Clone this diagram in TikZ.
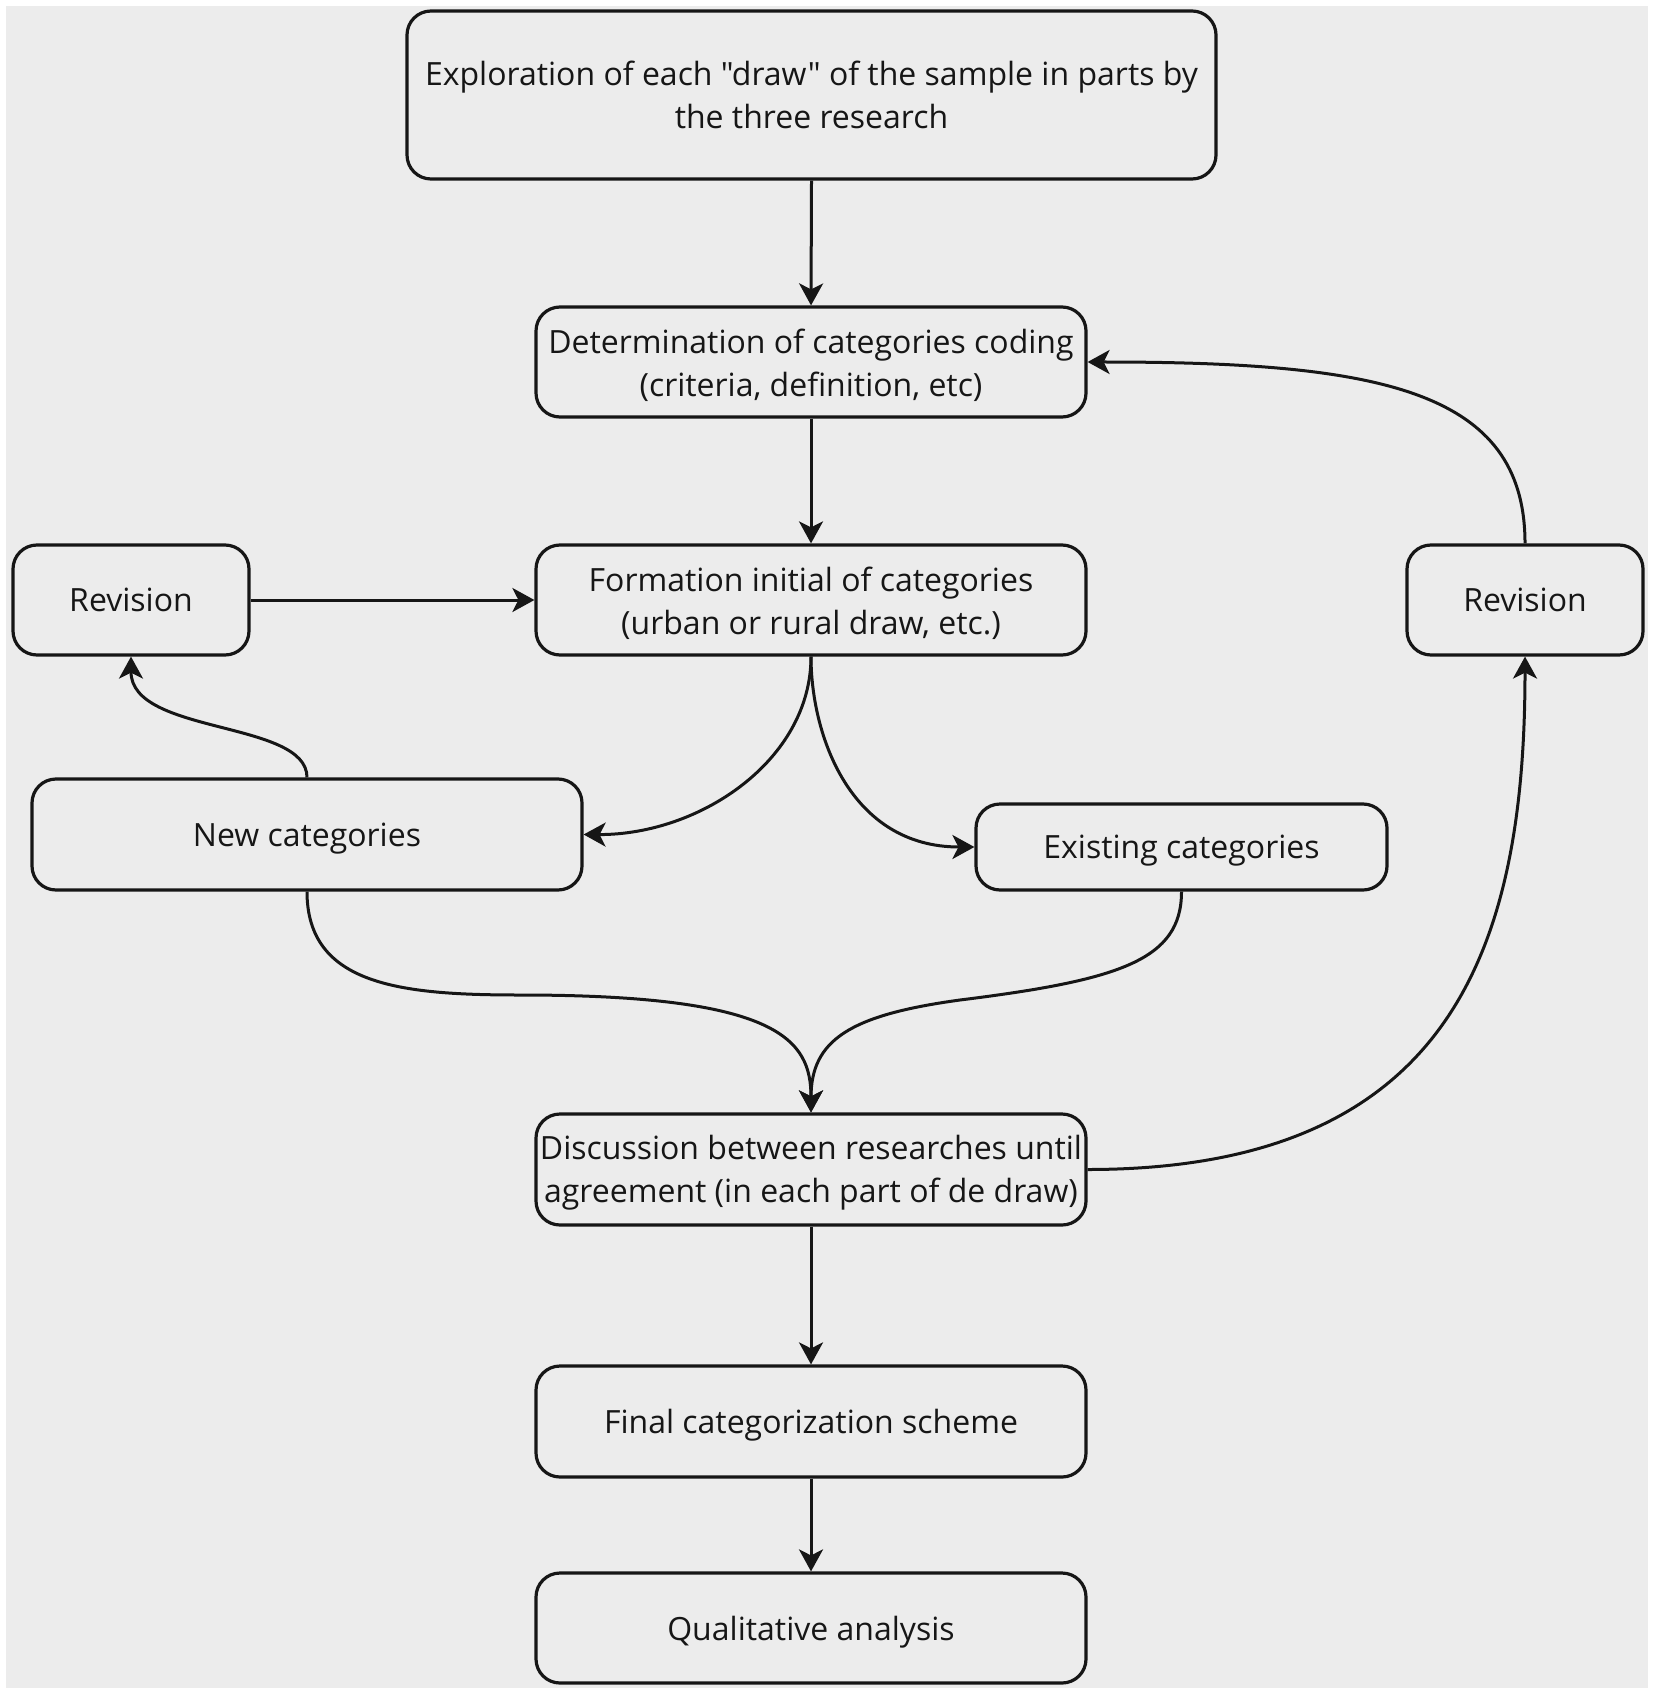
\documentclass[tikz,border=0pt]{standalone}
\usepackage{fontspec}
\setmainfont{Open Sans}[Ligatures=TeXOff]
\usetikzlibrary{arrows.meta}
\definecolor{bggray}{HTML}{ECECEC}
\definecolor{ink}{HTML}{161616}
\newcommand{\lowtxt}[1]{\raisebox{0pt}[\dimexpr\height+4pt\relax][\depth]{#1}}
\begin{document}
\begin{tikzpicture}[x=0.5pt,y=-0.5pt,
  box/.style={draw=ink, line width=1.6pt, rounded corners=12pt, fill=bggray,
    align=center, inner sep=0pt, text=ink,
    font=\fontsize{16}{21.5}\selectfont},
  conn/.style={draw=ink, line width=1.5pt, -{Stealth[length=11pt,width=12pt,inset=3pt]}}]
\useasboundingbox (0,0) rectangle (1654,1695);
\fill[white] (0,0) rectangle (1654,1695);
\fill[bggray] (6,6) rectangle (1648,1688);

\node[box, minimum width=404.5pt, minimum height=84pt] (top) at (811.5,95)
  {Exploration of each "draw" of the sample in parts by\\the three research};
\node[box, minimum width=275pt, minimum height=55pt] (det) at (811,362)
  {\strut Determination of categories coding\\(criteria, definition, etc)};
\node[box, minimum width=275pt, minimum height=55pt] (form) at (811,600)
  {\strut Formation initial of categories\\(urban or rural draw, etc.)};
\node[box, minimum width=118pt, minimum height=55pt] (revL) at (131,600) {Revision};
\node[box, minimum width=118pt, minimum height=55pt] (revR) at (1525,600) {Revision};
\node[box, minimum width=275pt, minimum height=55.5pt] (newc) at (307,834.5) {\lowtxt{New categories}};
\node[box, minimum width=205.5pt, minimum height=43pt] (exist) at (1181.5,847) {\lowtxt{Existing categories}};
\node[box, minimum width=275pt, minimum height=55.5pt] (disc) at (811,1169.5)
  {\strut Discussion between researches until\\agreement (in each part of de draw)};
\node[box, minimum width=275pt, minimum height=55.5pt] (final) at (811,1421.5) {\lowtxt{Final categorization scheme}};
\node[box, minimum width=275pt, minimum height=55pt] (qual) at (811,1628) {\lowtxt{Qualitative analysis}};

\draw[conn] (top.south) -- (det.north);
\draw[conn] (det.south) -- (form.north);
\draw[conn] (revL.east) -- (form.west);
\draw[conn] (disc.south) -- (final.north);
\draw[conn] (final.south) -- (qual.north);

\draw[conn] (form.south) .. controls (811,760) and (700,835) .. (newc.east);
\draw[conn] (form.south) .. controls (811,735) and (850,847) .. (exist.west);
\draw[conn] (newc.north) .. controls (307,720) and (131,735) .. (revL.south);

\coordinate (jl) at (520,995);
\coordinate (jr) at (960,1000);
\draw[conn] (newc.south) .. controls (307,985) and (400,995) .. (jl)
  .. controls (780,995) and (811,1040) .. (disc.north);
\draw[conn] (exist.south) .. controls (1181.5,960) and (1120,980) .. (jr)
  .. controls (850,1015) and (811,1040) .. (disc.north);

\draw[conn] (disc.east) .. controls (1450,1169.5) and (1525,950) .. (revR.south);
\draw[conn] (revR.north) .. controls (1525,390) and (1380,362) .. (det.east);
\end{tikzpicture}
\end{document}
